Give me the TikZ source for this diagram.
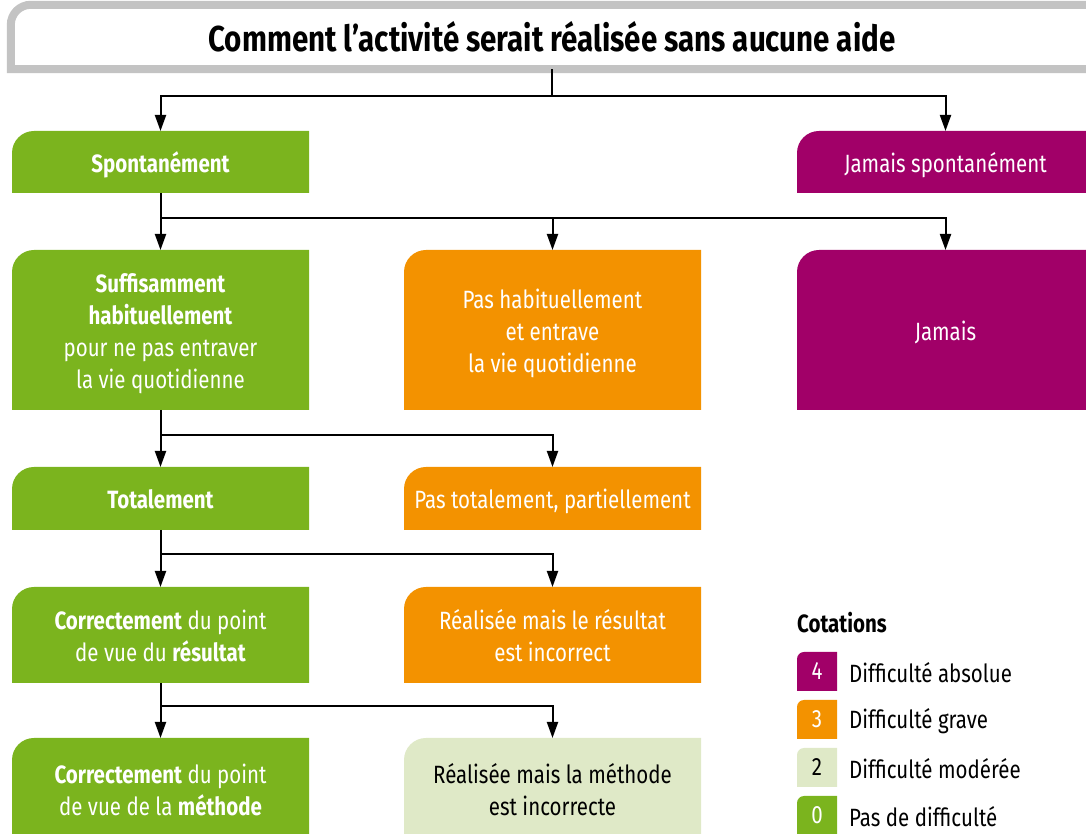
\documentclass[tikz,border=0pt]{standalone}
\usepackage{fontspec}
\setmainfont{Fira Sans}[FakeStretch=0.82]
\usetikzlibrary{arrows.meta}
\definecolor{cgreen}{HTML}{7BB41E}
\definecolor{cpurple}{HTML}{A10068}
\definecolor{corange}{HTML}{F39200}
\definecolor{clight}{HTML}{DFE9C7}
\definecolor{cgray}{HTML}{C3C3C3}
\newcommand{\boxfont}{\fontsize{25}{32}\selectfont}
\newcommand{\lowtext}[1]{\raisebox{-4pt}[\height][\depth]{\begin{tabular}{@{}c@{}}#1\end{tabular}}}
\tikzset{
  x=1pt, y=1pt,
  cbox/.style={anchor=north west, inner sep=0pt, outer sep=0pt, minimum width=297pt,
    text=white, font=\boxfont, fill=white,
    path picture={\fill[#1] (path picture bounding box.south west) -- ([yshift=-22pt]path picture bounding box.north west) arc[start angle=180,end angle=90,radius=22pt] -- (path picture bounding box.north east) -- (path picture bounding box.south east) -- cycle;}},
  lbox/.style={anchor=north west, inner sep=0pt, outer sep=0pt, minimum width=40pt, minimum height=39pt,
    text=white, font=\boxfont, fill=white,
    path picture={\fill[#1] (path picture bounding box.south west) -- ([yshift=-7pt]path picture bounding box.north west) arc[start angle=180,end angle=90,radius=7pt] -- (path picture bounding box.north east) -- (path picture bounding box.south east) -- cycle;}},
  ltext/.style={anchor=west, inner sep=0pt, font=\boxfont},
  conn/.style={line width=2pt, black},
  arr/.style={conn, -{Triangle[length=16pt,width=11pt]}},
}
\begin{document}
\begin{tikzpicture}
\useasboundingbox (0,0) rectangle (1086,834);
\clip (0,0) rectangle (1086,834);
\node[minimum width=1082pt, minimum height=64pt, inner sep=0pt,
  font=\fontsize{36}{40}\selectfont\bfseries] (title) at (552,797) {Comment l’activité serait réalisée sans aucune aide};
\draw[cgray, line width=8pt] ([xshift=10pt]title.south east) -- (title.south west) -- ([yshift=-20pt]title.north west) arc[start angle=180,end angle=90,radius=20pt] -- ([xshift=10pt]title.north east);

\node[cbox=cgreen, minimum height=62pt] (spont) at (12,703) {\lowtext{\bfseries Spontanément}};
\node[cbox=cpurple, minimum height=62pt] (jamsp) at (797,703) {\lowtext{Jamais spontanément}};

\node[cbox=cgreen, minimum height=160pt] (suff) at (12,584) {\lowtext{{\bfseries Suffisamment}\\{\bfseries habituellement}\\pour ne pas entraver\\la vie quotidienne}};
\node[cbox=corange, minimum height=160pt] (pashab) at (404,584) {\lowtext{Pas habituellement\\et entrave\\la vie quotidienne}};
\node[cbox=cpurple, minimum height=160pt] (jamais) at (797,584) {\lowtext{Jamais}};

\node[cbox=cgreen, minimum height=63pt] (tot) at (12,367) {\lowtext{\bfseries Totalement}};
\node[cbox=corange, minimum height=63pt] (ptot) at (404,367) {\lowtext{Pas totalement, partiellement}};

\node[cbox=cgreen, minimum height=96pt] (corr1) at (12,247) {\lowtext{{\bfseries Correctement} du point\\de vue du {\bfseries résultat}}};
\node[cbox=corange, minimum height=96pt] (real1) at (404,247) {\lowtext{Réalisée mais le résultat\\est incorrect}};

\node[cbox=cgreen, minimum height=102pt] (corr2) at (12,96) {\lowtext{{\bfseries Correctement} du point\\de vue de la {\bfseries méthode}}};
\node[cbox=clight, minimum height=102pt, text=black] (real2) at (404,96) {\lowtext{Réalisée mais la méthode\\est incorrecte}};

% connectors
\draw[conn] (title.south) -- ++(0,-27) coordinate (j1);
\draw[arr] (j1) -| (spont.north);
\draw[arr] (j1) -| (jamsp.north);

\draw[conn] (spont.south) -- ++(0,-25) coordinate (j2);
\draw[arr] (j2) -- (suff.north);
\draw[arr] (j2) -| (pashab.north);
\draw[arr] (j2) -| (jamais.north);

\draw[conn] (suff.south) -- ++(0,-25) coordinate (j3);
\draw[arr] (j3) -- (tot.north);
\draw[arr] (j3) -| (ptot.north);

\draw[conn] (tot.south) -- ++(0,-24) coordinate (j4);
\draw[arr] (j4) -- (corr1.north);
\draw[arr] (j4) -| (real1.north);

\draw[conn] (corr1.south) -- ++(0,-23) coordinate (j5);
\draw[arr] (j5) -- (corr2.north);
\draw[arr] (j5) -| (real2.north);

% legend
\node[anchor=west, inner sep=0pt, font=\fontsize{25}{28}\selectfont\bfseries] (cot) at (797,211) {Cotations};
\node[lbox=cpurple] (l4) at (797,182) {4};
\node[lbox=corange] (l3) at (797,134) {3};
\node[lbox=clight, text=black] (l2) at (797,86) {2};
\node[lbox=cgreen] (l0) at (797,38) {0};
\node[ltext] (t4) at (849,161) {Difficulté absolue};
\node[ltext] (t3) at (849,113) {Difficulté grave};
\node[ltext] (t2) at (849,65) {Difficulté modérée};
\node[ltext] (t0) at (849,17) {Pas de difficulté};
\end{tikzpicture}
\end{document}
